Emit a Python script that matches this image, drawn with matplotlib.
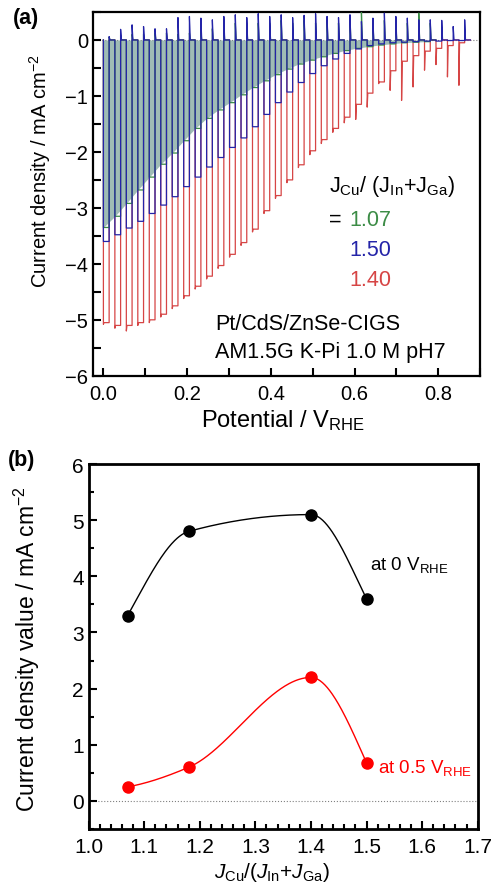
import numpy as np
import matplotlib
matplotlib.use("Agg")
import matplotlib.pyplot as plt
from matplotlib.ticker import MultipleLocator

plt.rcParams['font.family'] = ['Liberation Sans', 'DejaVu Sans']
plt.rcParams['mathtext.fontset'] = 'custom'
plt.rcParams['mathtext.rm'] = 'Liberation Sans'
plt.rcParams['mathtext.it'] = 'Liberation Sans:italic'

# ---- panel (a): chopped-light LSV, one value per light pulse ----
chop_start = 0.0
chop_period = 0.0274

# photocurrent at end of each light-on pulse (mA cm-2)
red_on = [-5.05, -5.10, -5.10, -5.05, -5.00, -4.90, -4.75, -4.57, -4.40, -4.22,
          -4.03, -3.83, -3.62, -3.38, -3.05, -2.78, -2.50, -2.23, -1.98, -1.78,
          -1.58, -1.38, -1.15, -0.95, -0.75, -0.55, -0.38, -0.28, -0.20, -0.15,
          -0.10, -0.05]
red_dip = [-5.08, -5.15, -5.20, -5.10, -5.05, -4.95, -4.80, -4.62, -4.45, -4.27,
           -4.08, -3.88, -3.67, -3.43, -3.10, -2.83, -2.55, -2.28, -2.05, -1.85,
           -1.65, -1.48, -1.42, -1.20, -0.78, -0.90, -1.08, -0.84, -0.54, -0.44,
           -0.66, -0.81]
blue_on = [-3.60, -3.48, -3.36, -3.24, -3.10, -2.95, -2.80, -2.62, -2.45, -2.27,
           -2.10, -1.92, -1.75, -1.55, -1.33, -1.12, -0.93, -0.76, -0.60, -0.46,
           -0.34, -0.24, -0.16, -0.10, -0.07, -0.05, -0.04, -0.03, -0.02, -0.02,
           -0.01, -0.01]
blue_up = [0.06, 0.19, 0.27, 0.24, 0.20, 0.20, 0.40, 0.42, 0.39, 0.36,
           0.42, 0.45, 0.40, 0.47, 0.42, 0.45, 0.40, 0.44, 0.47, 0.42,
           0.40, 0.45, 0.33, 0.39, 0.48, 0.42, 0.39, 0.36, 0.36, 0.35,
           0.24, 0.36]
green_on = [-3.35, -3.15, -2.92, -2.68, -2.45, -2.22, -2.02, -1.80, -1.58, -1.40,
            -1.25, -1.12, -0.98, -0.85, -0.73, -0.62, -0.52, -0.43, -0.36, -0.30,
            -0.24, -0.19, -0.15, -0.12, -0.09, -0.07, -0.05, -0.04, -0.03]
green_up = [0.05, 0.08, 0.10, 0.10, 0.12, 0.12, 0.10, 0.12, 0.15, 0.20,
            0.25, 0.30, 0.25, 0.30, 0.30, 0.35, 0.30, 0.35, 0.30, 0.35,
            0.30, 0.40, 0.50, 0.30, 0.35, 0.30, 0.30, 0.48, 0.30]

# ---- panel (b) ----
ratio = [1.07, 1.18, 1.40, 1.50]
j_0V = [3.3, 4.8, 5.1, 3.6]
j_05V = [0.25, 0.6, 2.2, 0.68]

c_red = "#d64545"
c_blue = "#2424a8"
c_green = "#3c8c46"
c_teal = "#7fa69d"


def chop_path(on, dip=None, up=None):
    xs, ys = [], []
    for k, j in enumerate(on):
        v0 = chop_start + k * chop_period
        v1 = v0 + 0.5 * chop_period
        d = dip[k] if dip is not None else j
        u = up[k] if up is not None else 0.0
        xs += [v0, v0, v0 + 0.0015, v1, v1, v1 + 0.002, v0 + chop_period]
        ys += [0, d, j, j, u, 0, 0]
    return xs, ys


def pchip(x, y, xn):
    x = np.asarray(x, float)
    y = np.asarray(y, float)
    h = np.diff(x)
    d = np.diff(y) / h
    m = np.zeros_like(y)
    for i in range(1, len(x) - 1):
        if d[i - 1] * d[i] > 0:
            w1 = 2 * h[i] + h[i - 1]
            w2 = h[i] + 2 * h[i - 1]
            m[i] = (w1 + w2) / (w1 / d[i - 1] + w2 / d[i])

    def endslope(h0, h1, d0, d1):
        s = ((2 * h0 + h1) * d0 - h0 * d1) / (h0 + h1)
        if np.sign(s) != np.sign(d0):
            s = 0.0
        elif np.sign(d0) != np.sign(d1) and abs(s) > 3 * abs(d0):
            s = 3 * d0
        return s

    m[0] = endslope(h[0], h[1], d[0], d[1])
    m[-1] = endslope(h[-1], h[-2], d[-1], d[-2])
    idx = np.clip(np.searchsorted(x, xn) - 1, 0, len(h) - 1)
    t = (xn - x[idx]) / h[idx]
    h00 = 2 * t**3 - 3 * t**2 + 1
    h10 = t**3 - 2 * t**2 + t
    h01 = -2 * t**3 + 3 * t**2
    h11 = t**3 - t**2
    return h00 * y[idx] + h10 * h[idx] * m[idx] + h01 * y[idx + 1] + h11 * h[idx] * m[idx + 1]


fig = plt.figure(figsize=(4.97, 8.95), dpi=100)
ax1 = fig.add_axes([0.187, 0.579, 0.779, 0.4065])
ax2 = fig.add_axes([0.1785, 0.0726, 0.7825, 0.4078])

# ---------- (a) ----------
gv = [chop_start + k * chop_period for k in range(len(green_on))]
ax1.fill_between(gv, green_on, 0, color=c_teal, alpha=0.75, lw=0, zorder=2)
x, y = chop_path(red_on, dip=red_dip)
ax1.plot(x, y, color=c_red, lw=0.9, zorder=1)
x, y = chop_path(green_on, up=green_up)
ax1.plot(x, y, color=c_green, lw=0.9, zorder=3)
x, y = chop_path(blue_on, up=blue_up)
ax1.plot(x, y, color=c_blue, lw=0.9, zorder=4)
ax1.axhline(0, color="gray", ls=":", lw=0.8, zorder=0)

ax1.set_xlim(-0.025, 0.9)
ax1.set_ylim(-6, 0.5)
ax1.xaxis.set_major_locator(MultipleLocator(0.2))
ax1.xaxis.set_minor_locator(MultipleLocator(0.1))
ax1.yaxis.set_major_locator(MultipleLocator(1))
ax1.yaxis.set_minor_locator(MultipleLocator(0.5))
ax1.tick_params(which="both", direction="in", top=False, right=False, width=1.5,
                labelsize=14.5, length=6)
ax1.tick_params(axis="x", pad=6)
for s in ax1.spines.values():
    s.set_linewidth(1.6)
ax1.set_xlabel(r"Potential / V$_{\mathrm{RHE}}$", fontsize=17)
ax1.xaxis.set_label_coords(0.49, -0.085)
ax1.set_ylabel(r"Current density / mA cm$^{-2}$", fontsize=14.5)
ax1.yaxis.set_label_coords(-0.103, 0.566)

ax1.text(0.54, -2.6, r"J$_{\mathrm{Cu}}$/ (J$_{\mathrm{In}}$+J$_{\mathrm{Ga}}$)", fontsize=15.5, va="center")
ax1.text(0.54, -3.2, "=", fontsize=15.5, va="center")
ax1.text(0.588, -3.2, "1.07", fontsize=15.5, va="center", color=c_green)
ax1.text(0.588, -3.74, "1.50", fontsize=15.5, va="center", color=c_blue)
ax1.text(0.588, -4.28, "1.40", fontsize=15.5, va="center", color=c_red)
ax1.text(0.267, -5.07, "Pt/CdS/ZnSe-CIGS", fontsize=15.5, va="center")
ax1.text(0.267, -5.56, "AM1.5G K-Pi 1.0 M pH7", fontsize=15.5, va="center")
fig.text(0.025, 0.979, "(a)", fontsize=15.5, fontweight="bold", va="center")

# ---------- (b) ----------
xs = np.linspace(ratio[0], ratio[-1], 300)
ax2.plot(xs, pchip(ratio, j_0V, xs), color="black", lw=1.0)
ax2.plot(xs, pchip(ratio, j_05V, xs), color="red", lw=1.0)
ax2.plot(ratio, j_0V, "o", color="black", ms=8)
ax2.plot(ratio, j_05V, "o", color="red", ms=8)
ax2.axhline(0, color="gray", ls=":", lw=0.8, zorder=0)

ax2.set_xlim(1.0, 1.7)
ax2.set_ylim(-0.5, 6)
ax2.xaxis.set_major_locator(MultipleLocator(0.1))
ax2.xaxis.set_minor_locator(MultipleLocator(0.02))
ax2.yaxis.set_major_locator(MultipleLocator(1))
ax2.yaxis.set_minor_locator(MultipleLocator(0.5))
ax2.tick_params(which="both", direction="in", top=False, right=False, width=1.5, labelsize=15)
ax2.tick_params(which="major", length=6)
ax2.tick_params(which="minor", length=3.5)
ax2.tick_params(axis="x", pad=6)
for s in ax2.spines.values():
    s.set_linewidth(2)
ax2.set_xlabel(r"$J_{\mathrm{Cu}}$/($J_{\mathrm{In}}$+$J_{\mathrm{Ga}}$)", fontsize=15)
ax2.xaxis.set_label_coords(0.471, -0.085)
ax2.set_ylabel(r"Current density value / mA cm$^{-2}$", fontsize=16.5)
ax2.yaxis.set_label_coords(-0.12, 0.496)
ax2.text(1.506, 4.22, r"at 0 V$_{\mathrm{RHE}}$", fontsize=13.5, va="center")
ax2.text(1.521, 0.6, r"at 0.5 V$_{\mathrm{RHE}}$", fontsize=13.5, va="center", color="red")
fig.text(0.015, 0.486, "(b)", fontsize=15.5, fontweight="bold", va="center")

fig.savefig("out.png", dpi=100)
